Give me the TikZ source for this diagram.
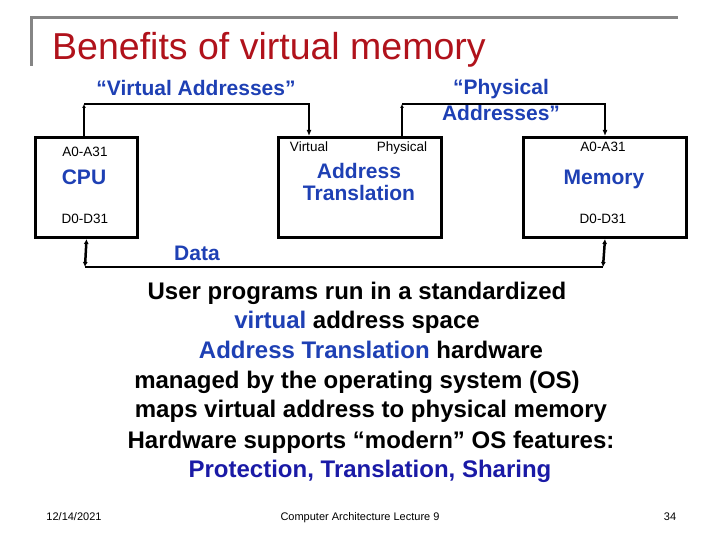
\documentclass[tikz,border=0pt]{standalone}
\usepackage{fontspec}
\setmainfont{Liberation Sans}
\usetikzlibrary{arrows.meta, positioning}
\definecolor{titleRed}{HTML}{B0121B}
\definecolor{labelBlue}{HTML}{1E40B4}
\definecolor{deepBlue}{HTML}{1A1AA6}
\definecolor{frameGray}{HTML}{858585}

\begin{document}
\begin{tikzpicture}[x=1pt, y=-1pt,
    unit/.style={rectangle, draw=black, line width=3pt, inner sep=0pt,
                 anchor=north west, minimum height=100pt},
    pinlbl/.style={font=\fontsize{13.5}{15}\selectfont, inner sep=0pt, anchor=base},
    unitname/.style={font=\bfseries\fontsize{21}{22}\selectfont, text=labelBlue,
                     inner sep=0pt, align=center},
    wire/.style={line width=2.5pt, -{Latex[length=6pt,width=5pt]}},
    stub/.style={line width=2.5pt, -{Latex[length=4pt,width=4pt]}},
    bus/.style={line width=2.5pt, {Latex[length=5pt,width=5pt]}-{Latex[length=5pt,width=5pt]}},
    bodyline/.style={font=\bfseries\fontsize{24}{28}\selectfont, inner sep=0pt, anchor=base},
    footer/.style={font=\fontsize{11}{13}\selectfont, inner sep=0pt, anchor=base},
  ]
  \useasboundingbox (0,0) rectangle (720,540);

  % title and frame
  \draw[frameGray, line width=3pt] (31,66) -- (31,18) -- (678,18);
  \node[anchor=base west, inner sep=0pt, text=titleRed,
        font=\fontsize{37.5}{40}\selectfont] (title) at (52,60) {Benefits of virtual memory};

  % units
  \node[unit, minimum width=102pt] (cpu) at (34,136) {};
  \node[unit, minimum width=163pt] (trans) at (277,136) {};
  \node[unit, minimum width=163pt] (mem) at (522,136) {};

  \node[pinlbl] (cpuA) at (85,157) {A0-A31};
  \node[unitname] (cpuname) at (84,177) {CPU};
  \node[pinlbl] (cpuD) at (85,223) {D0-D31};

  \node[pinlbl] (virt) at (309,152) {Virtual};
  \node[pinlbl] (phys) at (402,152) {Physical};
  \node[unitname] (transname) at (359,182) {Address\\Translation};

  \node[pinlbl] (memA) at (603,152) {A0-A31};
  \node[unitname] (memname) at (604,179) {Memory};
  \node[pinlbl] (memD) at (603,223) {D0-D31};

  % address paths
  \node[unitname] (vlabel) at (196,88) {``Virtual Addresses''};
  \node[unitname, font=\bfseries\fontsize{21}{26}\selectfont] (plabel) at (501,100)
    {``Physical\\Addresses''};

  \coordinate (vcorner) at (84,104);
  \coordinate (pcorner) at (402,104);
  \draw[stub] (vcorner |- cpu.north) -- (vcorner);
  \draw[wire] (vcorner) -| (virt |- trans.north);
  \draw[stub] (phys |- trans.north) -- (pcorner);
  \draw[wire] (pcorner) -| (mem.north);

  % data bus
  \coordinate (busL) at (85,267);
  \coordinate (busR) at (603,267);
  \draw[bus] (cpu.south) -- (busL);
  \draw[bus] (mem.south) -- (busR);
  \draw[line width=2.5pt] (busL) -- (busR);
  \node[unitname] (data) at (197,253) {Data};

  % benefits
  \node[bodyline] (l1) at (357,299) {User programs run in a standardized};
  \node[bodyline] (l2) at (357,328) {\textcolor{labelBlue}{virtual} address space};
  \node[bodyline] (l3) at (371,358) {\textcolor{labelBlue}{Address Translation} hardware};
  \node[bodyline] (l4) at (357,388) {managed by the operating system (OS)};
  \node[bodyline] (l5) at (371,417) {maps virtual address to physical memory};
  \node[bodyline] (l6) at (371,448) {Hardware supports ``modern'' OS features:};
  \node[bodyline, text=deepBlue] (l7) at (370,477) {Protection, Translation, Sharing};

  % footer
  \node[footer] (date) at (74,520) {12/14/2021};
  \node[footer] (course) at (360,520) {Computer Architecture Lecture 9};
  \node[footer] (page) at (670,520) {34};
\end{tikzpicture}
\end{document}
